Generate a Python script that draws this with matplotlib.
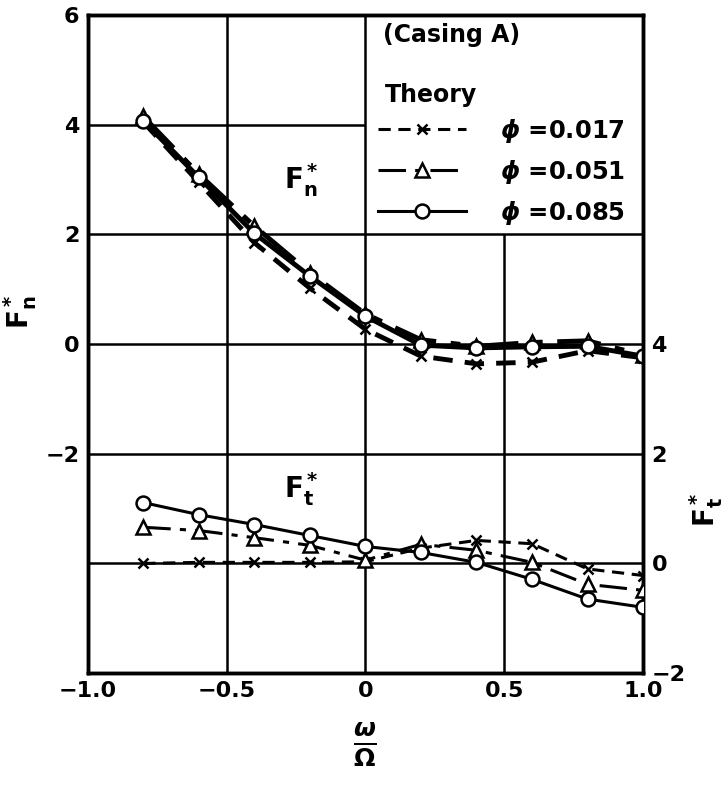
import numpy as np
import matplotlib.pyplot as plt
from matplotlib.lines import Line2D

plt.rcParams['font.family'] = ['DejaVu Sans']
plt.rcParams['font.weight'] = 'bold'
plt.rcParams['mathtext.fontset'] = 'dejavusans'

# omega / Omega
x = [-0.8, -0.6, -0.4, -0.2, 0.0, 0.2, 0.4, 0.6, 0.8, 1.0]

# normal force Fn* (left axis)
fn_017 = [4.05, 2.95, 1.85, 1.02, 0.27, -0.22, -0.36, -0.33, -0.12, -0.25]
fn_051 = [4.15, 3.10, 2.15, 1.30, 0.55, 0.08, -0.04, 0.03, 0.06, -0.20]
fn_085 = [4.07, 3.04, 2.02, 1.24, 0.51, -0.02, -0.07, -0.05, -0.04, -0.22]

# tangential force Ft* (right axis)
ft_017 = [0.00, 0.02, 0.02, 0.02, 0.03, 0.28, 0.42, 0.36, -0.10, -0.22]
ft_051 = [0.66, 0.60, 0.47, 0.33, 0.06, 0.35, 0.24, 0.02, -0.38, -0.49]
ft_085 = [1.11, 0.89, 0.71, 0.51, 0.31, 0.20, 0.02, -0.29, -0.65, -0.80]

labels = [r'$\phi$ =0.017', r'$\phi$ =0.051', r'$\phi$ =0.085']
x_ticks = [-1.0, -0.5, 0.0, 0.5, 1.0]
x_ticklabels = ['\u22121.0', '\u22120.5', '0', '0.5', '1.0']
fn_ticks = [-2, 0, 2, 4, 6]
ft_ticks = [-2, 0, 2, 4]

FN = r'$\mathbf{F}_\mathbf{n}^{\,\mathbf{*}}$'
FT = r'$\mathbf{F}_\mathbf{t}^{\,\mathbf{*}}$'

styles = [
    dict(ls=(0, (4, 2.5)), marker='x', ms=7, mew=1.8),
    dict(ls=(0, (9, 3, 2, 3)), marker='^', ms=10, mfc='white', mew=1.8),
    dict(ls='-', marker='o', ms=10, mfc='white', mew=1.8),
]

fig = plt.figure(figsize=(7.25, 7.91), dpi=100)
ax = fig.add_axes([0.121, 0.149, 0.766, 0.832])
ax2 = ax.twinx()

ax.set_xlim(-1.0, 1.0)
ax.set_ylim(-6, 6)
ax2.set_ylim(-2, 10)

# grid, upper right cell left open for the legend
gkw = dict(colors='black', lw=1.8, zorder=1)
ax.vlines([-0.5, 0.0], -6, 6, **gkw)
ax.vlines([0.5], -6, 2, **gkw)
ax.hlines([2, 0, -2, -4], -1, 1, **gkw)
ax.hlines([4], -1, 0, **gkw)

for yv, st, lab in zip([fn_017, fn_051, fn_085], styles, labels):
    ax.plot(x, yv, color='black', lw=3.5, label=lab, zorder=3, **st)
for yv, st in zip([ft_017, ft_051, ft_085], styles):
    ax2.plot(x, yv, color='black', lw=2.2, zorder=3, **st)

ax.set_xticks(x_ticks)
ax.set_xticklabels(x_ticklabels)
ax.set_yticks(fn_ticks)
ax.set_yticklabels([str(t) if t >= 0 else '\u2212' + str(-t) for t in fn_ticks])
ax2.set_yticks(ft_ticks)
ax2.set_yticklabels([str(t) if t >= 0 else '\u2212' + str(-t) for t in ft_ticks])

for a in (ax, ax2):
    a.tick_params(length=0, labelsize=16, pad=6)
    for s in a.spines.values():
        s.set_linewidth(2.5)

# axis titles
fig.text(20 / 725, 1 - 312 / 791, FN, fontsize=20, rotation=90,
         ha='center', va='center')
fig.text(706 / 725, 1 - 510 / 791, FT, fontsize=20, rotation=90,
         ha='center', va='center')
fig.text(365 / 725, 1 - 745 / 791, r'$\frac{\omega}{\Omega}$', fontsize=26,
         ha='center', va='center')

ax.text(-0.23, 3.0, FN, fontsize=20, ha='center', va='center')
ax.text(-0.23, -2.65, FT, fontsize=20, ha='center', va='center')

ax.text(0.532, 0.97, '(Casing A)', transform=ax.transAxes, fontsize=17,
        ha='left', va='center')
ax.text(0.535, 0.878, 'Theory', transform=ax.transAxes, fontsize=17,
        ha='left', va='center')

handles = [Line2D([], [], color='black', lw=2.2, **st) for st in styles]
leg = ax.legend(handles, labels, loc='upper left', bbox_to_anchor=(0.523, 0.844),
                frameon=False, fontsize=17.5, handlelength=3.6, handletextpad=1.4,
                labelspacing=0.55, borderpad=0, borderaxespad=0)
leg.set_zorder(5)

fig.savefig('out.png', dpi=100)
